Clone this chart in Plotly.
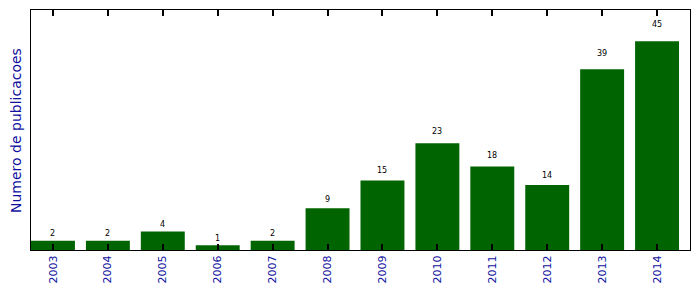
import plotly.graph_objects as go

years = ["2003", "2004", "2005", "2006", "2007", "2008", "2009", "2010", "2011", "2012", "2013", "2014"]
counts = [2, 2, 4, 1, 2, 9, 15, 23, 18, 14, 39, 45]

xpos = list(range(len(years)))

fig = go.Figure()
fig.add_trace(go.Bar(
    x=xpos, y=counts, width=0.8,
    marker=dict(color="#006400", line=dict(width=0)),
))

for x, c in zip(xpos, counts):
    fig.add_annotation(x=x, y=c * 1.05, text=str(c), showarrow=False,
                       yanchor="bottom", xanchor="center",
                       font=dict(family="DejaVu Sans", size=8, color="black"))

fig.add_annotation(xref="paper", yref="paper", x=-0.0228, y=0.5, text="Numero de publicacoes",
                   textangle=-90, showarrow=False, xanchor="center", yanchor="middle",
                   font=dict(family="DejaVu Sans", size=14, color="#1010a0"))

fig.update_layout(
    width=699, height=292,
    margin=dict(l=31, r=9, t=10, b=42),
    paper_bgcolor="white", plot_bgcolor="white",
    showlegend=False,
)
fig.update_xaxes(range=[-0.4, 11.6], tickmode="array", tickvals=xpos, ticktext=years,
                 tickangle=-90, ticks="inside", ticklen=6, tickcolor="black", tickwidth=1.5,
                 showline=True, linecolor="black", linewidth=1, mirror="allticks",
                 showgrid=False, zeroline=False,
                 tickfont=dict(family="DejaVu Sans", size=11, color="#1010a0"))
fig.update_yaxes(range=[0, 51.75], showticklabels=False, ticks="",
                 showline=True, linecolor="black", linewidth=1, mirror=True,
                 showgrid=False, zeroline=False)

fig.write_html("out.html")
